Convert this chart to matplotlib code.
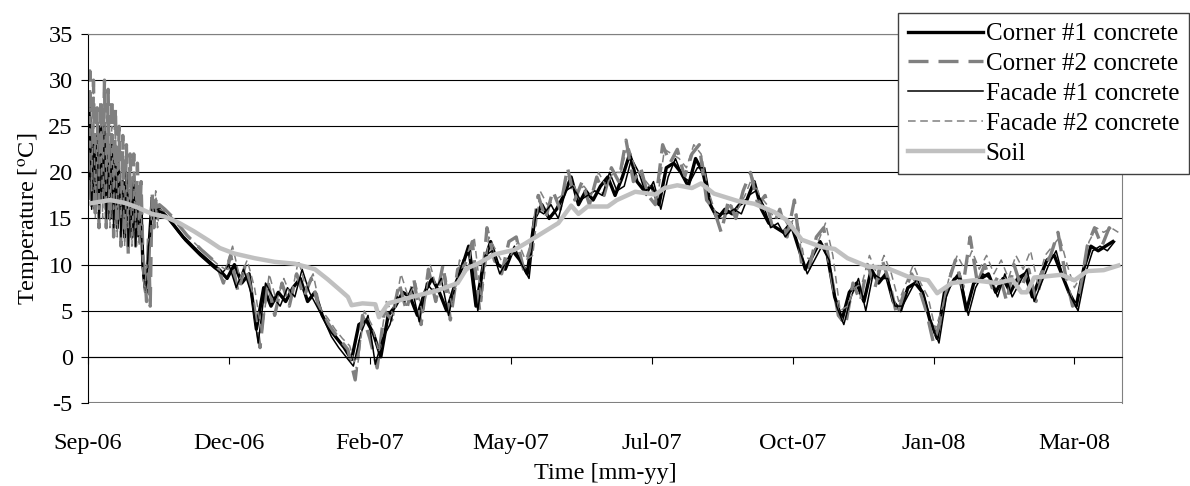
import matplotlib
matplotlib.use("Agg")
import matplotlib.pyplot as plt

plt.rcParams['font.family'] = ['Liberation Serif', 'DejaVu Serif']
plt.rcParams['mathtext.fontset'] = 'stix'
plt.rcParams['axes.unicode_minus'] = False

# days since start of logging (Sep-06); daily in the first 40 days, then every 4 days
days_c1 = list(range(0, 40)) + list(range(40, 564, 4))
days_f1 = list(range(0, 40)) + list(range(41, 564, 4))
days_c2 = list(range(0, 40)) + list(range(42, 564, 4))
days_f2 = list(range(0, 40)) + list(range(43, 564, 4))

corner1 = [18, 26, 17, 24, 16, 22, 18, 25, 17, 24, 16, 23, 15, 22, 17, 21, 14, 20, 16, 19,
           13, 19, 15, 18, 13, 18, 15, 17, 13, 16, 10, 8, 7, 11, 14, 17, 15, 16.5, 15.5, 16,
           15.8, 15.0, 14.0, 13.0, 12.2, 11.4, 10.7, 10.0, 9.4, 8.5,
           10.0, 8.0, 9.0, 3.0, 7.5, 5.5, 7.0, 6.0, 7.5, 8.5,
           6.0, 7.0, 4.5, 3.0, 2.0, 1.0, -0.3, 3.5, 4.0, 2.5,
           0.0, 4.5, 5.5, 7.0, 6.5, 4.5, 7.0, 8.5, 7.0, 5.0,
           7.5, 9.5, 12.0, 5.5, 10.0, 12.5, 10.0, 9.5, 11.5, 10.5,
           9.0, 15.0, 16.5, 15.0, 16.0, 17.5, 19.5, 16.5, 18.0, 17.0,
           18.5, 19.5, 17.5, 19.5, 22.0, 19.0, 18.0, 18.5, 16.5, 20.5,
           21.0, 20.0, 18.5, 21.5, 20.0, 16.5, 15.0, 16.0, 15.5, 16.5,
           17.0, 19.0, 16.0, 14.5, 14.0, 13.5, 14.5, 12.0, 9.5, 11.0,
           12.5, 11.0, 6.5, 4.0, 7.0, 8.0, 6.0, 9.5, 8.0, 9.0,
           6.0, 5.0, 7.5, 8.0, 7.0, 4.0, 2.0, 7.0, 8.0, 9.0,
           5.0, 8.0, 8.5, 9.0, 7.0, 8.5, 7.0, 8.5, 9.0, 6.5,
           8.5, 10.5, 11.0, 9.0, 7.0, 5.5, 9.5, 12.0, 11.5, 12.0,
           12.5]

facade1 = [20, 27, 16, 23, 19, 24, 15, 22, 18, 25, 15, 21, 17, 23, 14, 20, 16, 21, 13, 18,
           15, 20, 12, 17, 14, 19, 12, 16, 14, 15, 9, 7, 8, 12, 13, 16, 16, 15, 16, 15.7,
           15.5, 14.7, 13.6, 12.6, 11.8, 11.0, 10.3, 9.6, 9.0, 10.0,
           7.5, 9.5, 7.0, 1.5, 8.0, 6.5, 5.5, 7.5, 6.5, 9.5,
           7.0, 5.5, 4.0, 2.2, 1.0, 0.0, -1.0, 2.5, 4.5, -0.8,
           2.0, 3.5, 6.5, 6.0, 7.5, 3.8, 8.0, 7.0, 8.5, 4.5,
           8.0, 10.5, 11.5, 5.0, 11.0, 11.5, 9.0, 10.5, 12.0, 10.0,
           8.5, 16.0, 15.5, 16.5, 15.0, 18.0, 18.5, 17.0, 17.5, 18.0,
           17.5, 20.0, 18.0, 18.5, 21.5, 20.0, 17.5, 19.0, 16.0, 19.5,
           21.5, 19.5, 19.0, 20.5, 20.5, 16.0, 15.5, 15.5, 16.0, 15.5,
           17.5, 18.0, 16.5, 14.0, 14.5, 13.0, 14.0, 11.5, 9.0, 10.5,
           12.0, 10.5, 5.5, 3.5, 6.5, 8.5, 5.0, 9.0, 8.5, 8.5,
           5.5, 5.5, 7.0, 8.5, 6.5, 3.5, 1.5, 6.5, 8.5, 8.5,
           4.5, 7.5, 9.0, 8.5, 6.5, 9.0, 6.5, 8.0, 9.5, 6.0,
           8.0, 10.0, 11.5, 8.5, 6.5, 5.0, 9.0, 11.5, 12.0, 11.5,
           12.5]

corner2 = [17, 31, 16, 30, 15, 27, 14, 28, 18, 30, 14, 29, 16, 28, 13, 27, 15, 25, 12, 24,
           14, 23, 11, 22, 15, 22, 12, 21, 13, 19, 11, 9, 6, 13, 5.5, 18, 14, 17, 15, 16.5,
           16.0, 15.2, 14.2, 13.2, 12.4, 11.6, 10.9, 10.2, 8.0, 11.0,
           7.0, 10.0, 6.5, 1.0, 8.5, 4.5, 8.0, 5.5, 9.0, 6.5,
           8.5, 5.5, 4.0, 2.8, 1.8, 0.8, -2.5, 4.5, 2.0, -1.2,
           5.0, 4.0, 8.0, 5.0, 8.5, 3.5, 9.5, 6.0, 10.0, 4.0,
           9.5, 10.0, 12.5, 5.0, 14.0, 10.5, 9.0, 12.5, 13.0, 9.5,
           12.0, 17.5, 15.0, 18.0, 16.0, 20.5, 17.0, 19.0, 16.5, 19.5,
           17.5, 20.5, 19.0, 23.5, 19.0, 20.5, 17.5, 16.5, 23.0, 21.0,
           22.5, 19.5, 22.0, 23.0, 17.0, 16.0, 13.5, 17.0, 15.0, 18.0,
           20.0, 16.5, 17.5, 14.0, 16.0, 13.0, 17.0, 10.0, 9.5, 13.0,
           14.0, 9.0, 4.5, 3.5, 8.0, 6.0, 10.0, 7.5, 10.5, 8.0,
           4.5, 7.0, 9.0, 7.5, 5.0, 1.5, 4.0, 8.0, 10.5, 7.5,
           13.0, 8.0, 10.0, 7.5, 9.0, 6.0, 10.0, 7.5, 9.5, 6.0,
           9.5, 11.0, 13.5, 9.0, 5.5, 7.0, 12.0, 14.0, 12.0, 14.0,
           13.0]

facade2 = [16, 27, 18, 29, 15, 25, 16, 26, 15, 28, 17, 26, 14, 25, 16, 24, 13, 22, 15, 21,
           12, 20, 14, 20, 12, 19, 14, 18, 12, 17, 9, 7, 10, 8, 12, 17, 15, 18, 14, 16,
           15.7, 14.9, 14.0, 13.0, 12.2, 11.5, 10.7, 10.0, 9.5, 12.0,
           8.5, 10.5, 7.5, 2.5, 9.0, 6.0, 8.5, 6.5, 10.5, 7.5,
           9.0, 5.2, 4.2, 3.0, 2.0, 1.2, -1.5, 5.0, 3.5, 0.5,
           6.0, 4.5, 9.0, 6.5, 8.0, 4.5, 10.0, 7.0, 9.0, 5.5,
           10.5, 9.0, 13.0, 6.0, 13.0, 11.5, 10.0, 11.0, 12.5, 10.5,
           11.0, 18.0, 16.5, 17.0, 17.5, 19.5, 18.0, 18.5, 17.5, 20.0,
           18.5, 20.0, 20.0, 23.0, 20.5, 19.5, 18.5, 17.0, 22.5, 22.0,
           21.5, 20.5, 23.0, 22.0, 18.0, 15.5, 15.0, 16.5, 16.0, 17.5,
           19.5, 17.5, 16.5, 15.0, 15.5, 14.0, 15.5, 11.0, 10.5, 12.5,
           14.5, 11.0, 5.0, 5.5, 7.5, 8.0, 11.0, 9.0, 11.0, 9.0,
           6.0, 8.0, 10.0, 8.0, 6.5, 3.0, 5.5, 9.0, 11.0, 9.5,
           11.5, 9.5, 11.0, 9.0, 10.5, 8.5, 11.0, 9.5, 11.5, 8.0,
           11.0, 12.0, 13.0, 10.0, 7.5, 9.0, 12.5, 14.0, 13.5, 14.0,
           13.5]

soil_days = [0, 6, 12, 20, 27, 35, 42, 50, 58, 66, 72, 80, 91, 102, 113, 124,
             131, 138, 142, 144, 150, 157, 159, 164, 177, 191, 202, 207, 213,
             222, 233, 239, 248, 257, 264, 268, 273, 284, 289, 299, 310, 315,
             322, 330, 335, 342, 355, 364, 375, 382, 390, 401, 408, 415, 426,
             437, 448, 459, 464, 472, 484, 497, 505, 510, 513, 517, 532, 539,
             546, 555, 563]
soil = [16.6, 16.8, 17.0, 16.7, 16.2, 15.5, 15.2, 14.5, 13.6, 12.6, 11.8, 11.2,
        10.7, 10.3, 10.1, 9.5, 8.4, 7.2, 6.5, 5.6, 5.8, 5.7, 4.3, 5.8, 6.5, 7.2,
        8.0, 9.6, 10.1, 11.1, 11.6, 12.3, 13.4, 14.5, 16.4, 15.5, 16.3, 16.3,
        17.0, 17.9, 17.6, 18.3, 18.6, 18.3, 18.8, 17.7, 16.9, 16.6, 15.7, 14.8,
        12.7, 11.9, 11.7, 10.7, 9.8, 9.6, 8.7, 8.3, 6.9, 8.0, 8.3, 8.0, 8.4,
        7.0, 7.0, 8.6, 8.9, 8.3, 9.3, 9.4, 9.9]

tick_days = [0, 77, 154, 231, 308, 385, 462, 539]
tick_labels = ['Sep-06', 'Dec-06', 'Feb-07', 'May-07', 'Jul-07', 'Oct-07',
               'Jan-08', 'Mar-08']

fig = plt.figure(figsize=(11.9, 4.86), dpi=100)
ax = fig.add_axes((88/1190, 1-403/486, (1122-88)/1190, (403-34)/486))

ax.plot(days_c1, corner1, color='black', lw=2.4, label='Corner #1 concrete')
ax.plot(days_c2, corner2, color='#808080', lw=2.4, dashes=(6, 3),
        label='Corner #2 concrete')
ax.plot(days_f1, facade1, color='black', lw=1.1, label='Facade #1 concrete')
ax.plot(days_f2, facade2, color='#808080', lw=1.1, dashes=(5, 3),
        label='Facade #2 concrete')
ax.plot(soil_days, soil, color='#c0c0c0', lw=3.2, label='Soil')

ax.set_xlim(0, 565)
ax.set_ylim(-5, 35)
ax.set_yticks(range(-5, 36, 5))
ax.yaxis.grid(True, color='black', lw=0.8)
ax.set_axisbelow(True)
ax.axhline(-5, color='#808080', lw=1.5)

ax.spines['bottom'].set_position(('data', 0))
ax.spines['top'].set_color('#808080')
ax.spines['right'].set_color('#808080')
ax.spines['left'].set_color('black')
ax.set_xticks(tick_days)
ax.set_xticklabels(tick_labels)
ax.tick_params(axis='x', direction='out', length=5, pad=50, labelsize=17.5)
ax.tick_params(axis='y', direction='out', length=5, pad=6, labelsize=17.5)

ax.set_xlabel('Time [mm-yy]', fontsize=17.5, labelpad=6)
ax.set_ylabel(r'Temperature [$^{\rm o}$C]', fontsize=17.5, labelpad=4)

leg = fig.legend(loc='upper right', bbox_to_anchor=(1189/1190, 1-13/486),
                 fontsize=18, frameon=True, fancybox=False, framealpha=1,
                 edgecolor='#404040', handlelength=3.0, handletextpad=0.1,
                 labelspacing=0.29, borderpad=0.4, borderaxespad=0)
leg.get_frame().set_linewidth(1.0)

fig.savefig('out.png', dpi=100)
